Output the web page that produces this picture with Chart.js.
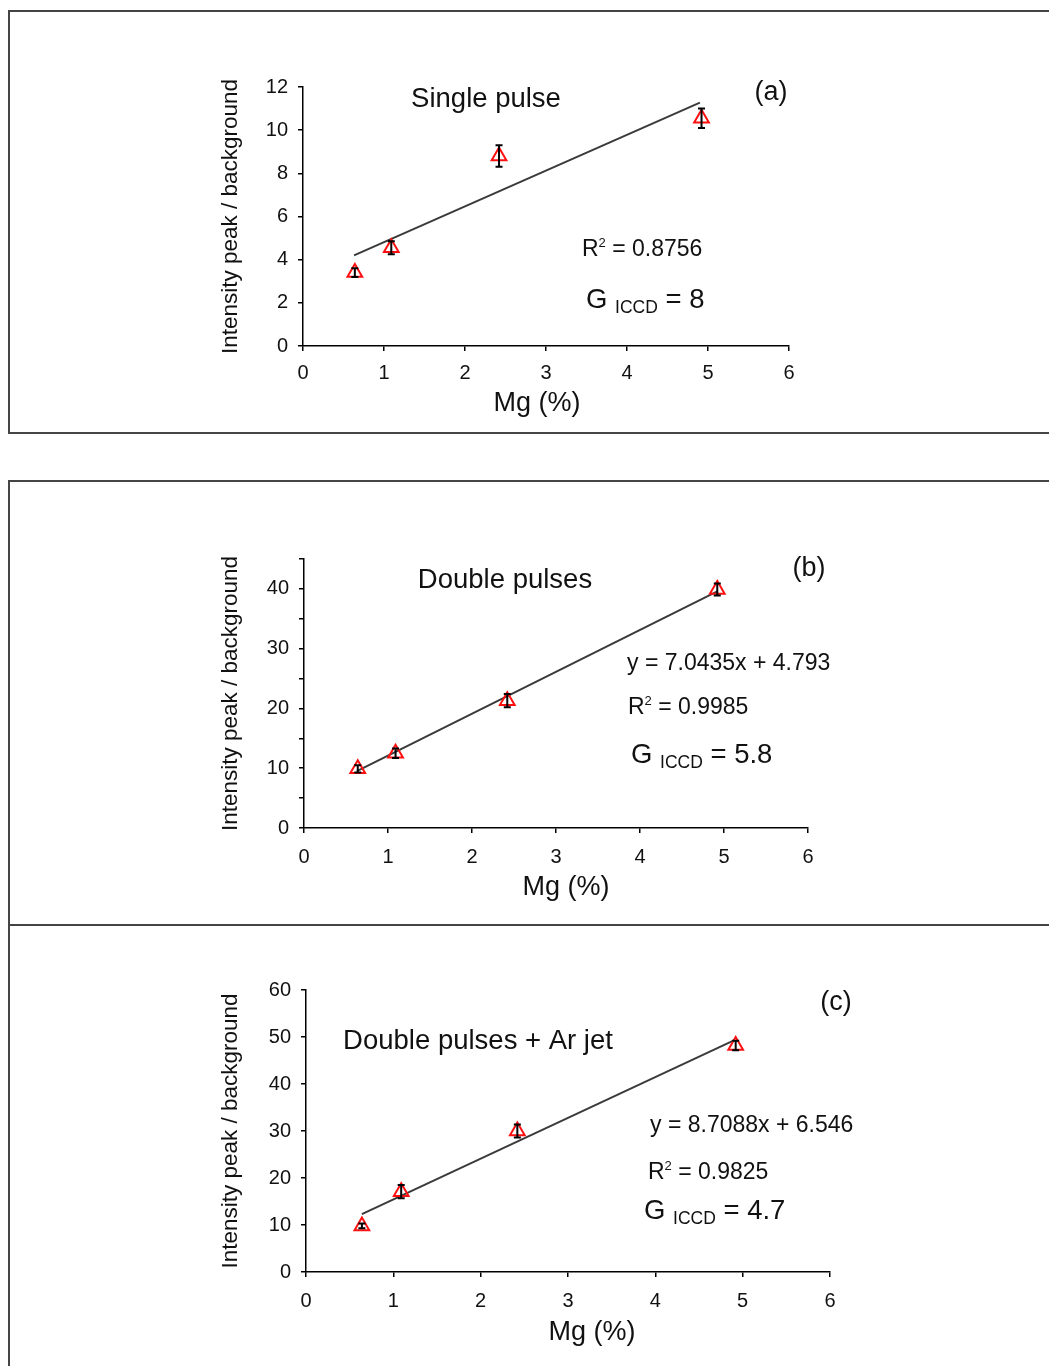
<!DOCTYPE html>
<html>
<head>
<meta charset="utf-8">
<script src="https://cdn.jsdelivr.net/npm/chart.js@4.4.1/dist/chart.umd.min.js"></script>
<style>
  html, body { margin: 0; padding: 0; background: #fff; }
  body { width: 1049px; height: 1366px; position: relative; overflow: hidden; }
  .box { position: absolute; left: 8px; width: 1100px; border: 2px solid #454545; box-sizing: border-box; }
  #boxA { top: 10px; height: 424px; }
  #boxB { top: 480px; height: 446px; }
  #boxC { top: 924px; height: 500px; }
  canvas { position: absolute; left: 0; }
</style>
</head>
<body>
<div class="box" id="boxA"></div>
<div class="box" id="boxB"></div>
<div class="box" id="boxC"></div>
<canvas id="chartA" width="1049" height="380" style="top:50px"></canvas>
<canvas id="chartB" width="1049" height="435" style="top:485px"></canvas>
<canvas id="chartC" width="1049" height="436" style="top:930px"></canvas>
<script>
// ----- data -----
const mgX = [0.64, 1.09, 2.42, 4.92];

const singleY   = [3.4, 4.55, 8.8, 10.55];
const singleErr = [0.2, 0.3, 0.5, 0.45];
const singleFitX = [0.63, 4.9];
const singleFitY = [4.2, 11.28];

const doubleY   = [9.9, 12.5, 21.3, 39.9];
const doubleErr = [0.6, 0.8, 1.1, 1.0];
const doubleFitX = [0.63, 4.92];
const doubleFitY = [9.5, 39.6];

const arJetY   = [9.8, 17.1, 30.0, 48.2];
const arJetErr = [0.5, 1.4, 1.4, 1.0];
const arJetFitX = [0.64, 4.9];
const arJetFitY = [12.3, 49.3];

const xTicks = [0, 1, 2, 3, 4, 5, 6];
const yTicksA = [0, 2, 4, 6, 8, 10, 12];
const yLabelsA = ['0', '2', '4', '6', '8', '10', '12'];
const yTicksB = [0, 5, 10, 15, 20, 25, 30, 35, 40, 45];
const yLabelsB = ['0', '', '10', '', '20', '', '30', '', '40', ''];
const yTicksC = [0, 10, 20, 30, 40, 50, 60];
const yLabelsC = ['0', '10', '20', '30', '40', '50', '60'];

const FONT = '"Liberation Sans", Arial, sans-serif';
const INK = '#111';

// ----- error bars drawn through the chart scales -----
const errorBars = {
  id: 'errorBars',
  afterDatasetsDraw(chart, args, opts) {
    const { ctx, scales: { x, y } } = chart;
    ctx.save();
    ctx.strokeStyle = '#000';
    ctx.lineWidth = 2;
    opts.values.forEach((v, i) => {
      const px = x.getPixelForValue(opts.xs[i]);
      const top = y.getPixelForValue(v + opts.err[i]);
      const bot = y.getPixelForValue(v - opts.err[i]);
      ctx.beginPath();
      ctx.moveTo(px, top); ctx.lineTo(px, bot);
      ctx.moveTo(px - 3.5, top); ctx.lineTo(px + 3.5, top);
      ctx.moveTo(px - 3.5, bot); ctx.lineTo(px + 3.5, bot);
      ctx.stroke();
    });
    ctx.restore();
  }
};

// ----- free text labels (page coordinates) -----
const panelText = {
  id: 'panelText',
  afterDraw(chart, args, opts) {
    const ctx = chart.ctx;
    ctx.save();
    ctx.fillStyle = INK;
    ctx.textBaseline = 'alphabetic';
    opts.items.forEach(item => {
      const main = item.runs[0].s;
      const base = item.y - opts.top + 0.358 * main;
      let total = 0;
      item.runs.forEach(r => { ctx.font = r.s + 'px ' + FONT; total += ctx.measureText(r.t).width; });
      let cx = item.align === 'center' ? item.x - total / 2 : item.x;
      item.runs.forEach(r => {
        ctx.font = r.s + 'px ' + FONT;
        ctx.textAlign = 'left';
        ctx.fillText(r.t, cx, base + (r.dy || 0));
        cx += ctx.measureText(r.t).width;
      });
    });
    ctx.restore();
  }
};

function rSquared(val) {
  return [{ t: 'R', s: 23 }, { t: '2', s: 13, dy: -9 }, { t: ' = ' + val, s: 23 }];
}
function gIccd(val) {
  return [{ t: 'G ', s: 27.5 }, { t: 'ICCD', s: 17.5, dy: 5 }, { t: ' = ' + val, s: 27.5 }];
}

function makePanel(id, p) {
  const axisBase = {
    grid: { display: true, drawOnChartArea: false, drawTicks: true, tickLength: 5, color: '#000', lineWidth: 1.5 },
    border: { display: true, color: '#000', width: 1.5 }
  };
  new Chart(document.getElementById(id), {
    data: {
      datasets: [
        {
          type: 'scatter',
          data: p.xs.map((x, i) => ({ x, y: p.ys[i] })),
          pointStyle: 'triangle',
          pointRadius: 8.5,
          pointBorderColor: '#ff1010',
          pointBackgroundColor: 'rgba(255,255,255,0)',
          pointBorderWidth: 2,
          order: 1
        },
        {
          type: 'line',
          data: p.fitX.map((x, i) => ({ x, y: p.fitY[i] })),
          borderColor: '#3a3a3a',
          borderWidth: 2,
          pointRadius: 0,
          order: 2
        }
      ]
    },
    options: {
      responsive: false,
      animation: false,
      devicePixelRatio: 1,
      layout: { padding: p.pad },
      plugins: {
        legend: { display: false },
        tooltip: { enabled: false },
        errorBars: { xs: p.xs, values: p.ys, err: p.err },
        panelText: { top: p.top, items: p.texts }
      },
      scales: {
        x: {
          ...axisBase,
          type: 'linear',
          min: 0, max: 6,
          afterBuildTicks: (s) => { s.ticks = xTicks.map(v => ({ value: v })); },
          afterFit: (s) => { s.height = 60; },
          ticks: { color: INK, font: { family: FONT, size: 20 }, padding: p.xPad, maxRotation: 0, callback: (v) => String(v) }
        },
        y: {
          ...axisBase,
          type: 'linear',
          min: p.yTicks[0], max: p.yTicks[p.yTicks.length - 1],
          afterBuildTicks: (s) => { s.ticks = p.yTicks.map(v => ({ value: v })); },
          afterFit: (s) => { s.width = p.yWidth; },
          ticks: { color: INK, font: { family: FONT, size: 20 }, padding: 10, callback: (v, i) => p.yLabels[i] },
          title: {
            display: true,
            text: 'Intensity peak / background',
            color: INK,
            font: { family: FONT, size: 22.5 },
            padding: { top: 17, bottom: 0 }
          }
        }
      }
    },
    plugins: [errorBars, panelText]
  });
}

makePanel('chartA', {
  top: 50, xs: mgX, ys: singleY, err: singleErr, fitX: singleFitX, fitY: singleFitY,
  yTicks: yTicksA, yLabels: yLabelsA, yWidth: 103, xPad: 10,
  pad: { left: 200, top: 37, right: 260, bottom: 24 },
  texts: [
    { x: 486, y: 97, align: 'center', runs: [{ t: 'Single pulse', s: 27.5 }] },
    { x: 771, y: 90, align: 'center', runs: [{ t: '(a)', s: 27 }] },
    { x: 582, y: 248, runs: rSquared('0.8756') },
    { x: 586, y: 298, runs: gIccd('8') },
    { x: 537, y: 401, align: 'center', runs: [{ t: 'Mg (%)', s: 27 }] }
  ]
});

makePanel('chartB', {
  top: 485, xs: mgX, ys: doubleY, err: doubleErr, fitX: doubleFitX, fitY: doubleFitY,
  yTicks: yTicksB, yLabels: yLabelsB, yWidth: 104, xPad: 12,
  pad: { left: 200, top: 74, right: 241, bottom: 32 },
  texts: [
    { x: 505, y: 578, align: 'center', runs: [{ t: 'Double pulses', s: 27.5 }] },
    { x: 809, y: 566, align: 'center', runs: [{ t: '(b)', s: 27 }] },
    { x: 627, y: 662, runs: [{ t: 'y = 7.0435x + 4.793', s: 23 }] },
    { x: 628, y: 706, runs: rSquared('0.9985') },
    { x: 631, y: 753, runs: gIccd('5.8') },
    { x: 566, y: 885, align: 'center', runs: [{ t: 'Mg (%)', s: 27 }] }
  ]
});

makePanel('chartC', {
  top: 930, xs: mgX, ys: arJetY, err: arJetErr, fitX: arJetFitX, fitY: arJetFitY,
  yTicks: yTicksC, yLabels: yLabelsC, yWidth: 106, xPad: 12,
  pad: { left: 200, top: 60, right: 219, bottom: 34 },
  texts: [
    { x: 836, y: 1000, align: 'center', runs: [{ t: '(c)', s: 27 }] },
    { x: 478, y: 1039, align: 'center', runs: [{ t: 'Double pulses + Ar jet', s: 27.5 }] },
    { x: 650, y: 1124, runs: [{ t: 'y = 8.7088x + 6.546', s: 23 }] },
    { x: 648, y: 1171, runs: rSquared('0.9825') },
    { x: 644, y: 1209, runs: gIccd('4.7') },
    { x: 592, y: 1330, align: 'center', runs: [{ t: 'Mg (%)', s: 27 }] }
  ]
});
</script>
</body>
</html>
